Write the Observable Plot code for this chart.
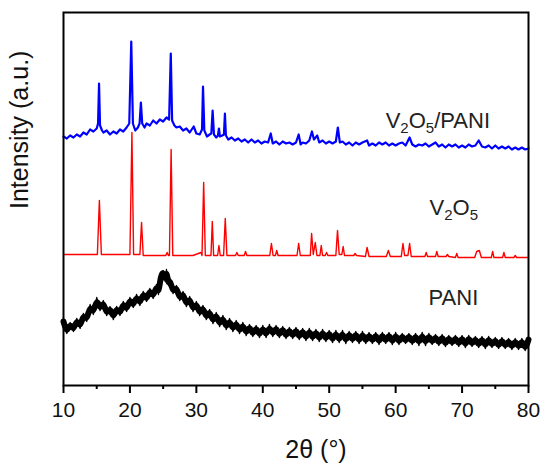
<!DOCTYPE html>
<html><head><meta charset="utf-8">
<script src="https://cdn.jsdelivr.net/npm/d3@7"></script>
<script src="https://cdn.jsdelivr.net/npm/@observablehq/plot@0.6"></script>
<style>
body{margin:0;background:#fff}
#chart svg{font-family:"Liberation Sans",Arial,sans-serif}
</style>
</head><body><div id="chart"></div>
<script>
// Tick values
const xTicks = [10, 20, 30, 40, 50, 60, 70, 80];
const xMinorTicks = [15, 25, 35, 45, 55, 65, 75];
const xLabel = "2θ (°)";
const yLabel = "Intensity (a.u.)";

// Series labels (text, 2θ position, intensity position)
const seriesLabels = ["V2O5/PANI", "V2O5", "PANI"];
const labelTheta = [58.5, 65.1, 64.95];
const labelIntensity = [258, 171, 81];

// PANI (black)
const paniTheta = [10,10.5,11,11.5,12,12.5,13,13.5,14,14.5,15,15.5,16,16.5,17,17.5,18,18.5,19,19.5,20,20.5,21,21.5,22,22.5,23,23.5,24,24.3,24.6,25,25.3,25.5,25.8,26,26.5,27,27.5,28,28.5,29,29.5,30,30.5,31,31.5,32,32.5,33,33.5,34,34.5,35,35.5,36,36.5,37,37.5,38,38.5,39,39.5,40,40.5,41,41.5,42,42.5,43,43.5,44,44.5,45,45.5,46,46.5,47,47.5,48,48.5,49,49.5,50,50.5,51,51.5,52,52.5,53,53.5,54,54.5,55,55.5,56,56.5,57,57.5,58,58.5,59,59.5,60,60.5,61,61.5,62,62.5,63,63.5,64,64.5,65,65.5,66,66.5,67,67.5,68,68.5,69,69.5,70,70.5,71,71.5,72,72.5,73,73.5,74,74.5,75,75.5,76,76.5,77,77.5,78,78.5,79,79.5,80];
const paniIntensity = [64,52,63,54,67,57,72,64,81,71,88,75,85,70,79,66,79,70,84,74,88,78,91,80,94,84,97,87,101,
  91,108,115,104,116,100,107,
  92,100,85,94,79,89,74,84,70,80,66,76,62,73,59,70,56,67,54,65,52,63,50,61,49,60,48,60,
  48,61,49,60,48,59,47,58,47,58,
  46,57,45,57,45,56,44,56,44,55,
  43,55,43,55,42,54,43,54,42,54,
  42,53,42,53,41,53,42,53,41,53,
  41,52,42,52,41,52,40,53,40,52,
  41,51,40,51,39,50,40,50,39,50,
  38,50,39,49,38,49,37,49,38,48,
  37,48,37,47,36,47,36,47,35,46];

// V2O5 (red)
const v2o5Theta = [10,13,15.1,15.4,15.7,20.0,20.3,20.55,21.5,21.75,22.0,25.4,25.6,25.8,25.95,26.2,26.45,29.5,30.7,30.85,31.1,31.35,32.2,32.4,32.6,33.2,33.4,33.6,34.1,34.35,34.6,35.9,36.1,36.3,37.2,37.4,37.6,41.05,41.3,41.55,41.9,42.1,42.3,45.15,45.4,45.65,47.15,47.35,47.6,47.9,48.15,48.6,48.8,49.0,49.4,49.6,49.8,51.0,51.25,51.5,51.9,52.1,52.3,53.7,53.9,54.1,55.45,55.7,56.0,58.6,58.9,59.2,60.85,61.1,61.35,61.85,62.1,62.35,64.4,64.6,64.8,66.0,66.2,66.4,67.6,67.8,68.0,69.0,69.2,69.4,71.9,72.2,72.6,72.9,74.4,74.6,74.8,76.1,76.3,76.5,77.8,78.0,78.2,80];
const v2o5Intensity = [131,131,131,185,131,131,253,131,131,163,130,130,133,130,130,236,130,130,133,130,203,130,130,164,130,130,140,130,130,167,130,130,133,130,130,134,130,130,142,130,130,135,130,130,142,130,130,152,131,143,130,130,140,130,130,133,130,130,155,131,131,139,130,130,132,130,129,138,129,129,135,129,129,142,130,130,142,129,129,133,129,129,134,129,129,131,129,128,132,128,128,134,135,128,128,134,128,128,133,128,128,130,128,128];

// V2O5/PANI (blue)
const compTheta = [10,10.5,11,11.5,12,12.5,13,13.5,14,14.5,15,15.2,15.35,15.5,15.8,16,16.5,17,17.5,18,18.5,19,19.5,19.9,20.2,20.45,20.8,21.2,21.45,21.65,21.85,22.2,22.5,23,23.5,24,24.5,25,25.5,25.9,26.15,26.35,26.7,27,27.5,28,28.5,29,29.6,30,30.5,30.85,31.0,31.2,31.6,32.0,32.25,32.45,32.65,33.0,33.25,33.4,33.55,33.9,34.15,34.3,34.45,34.8,35.3,35.8,36.3,36.8,37.3,37.8,38.3,38.8,39.3,39.8,40.3,40.8,41.2,41.5,42,42.5,43,43.5,44,44.5,45,45.4,45.7,46,46.5,47,47.4,47.7,48.2,48.5,49,49.5,50,50.5,51,51.3,51.6,52,52.5,53,53.5,54,54.5,55,55.7,56,56.5,57,57.5,58,58.5,59,59.5,60,60.5,61,61.5,62.1,62.5,63,63.5,64,64.5,65,65.5,66,66.5,67,67.5,68,68.5,69,69.5,70,70.5,71,71.5,72,72.5,73,73.5,74,74.5,75,75.5,76,76.5,77,77.5,78,78.5,79,79.5,80];
const compIntensity = [249,247,250,248,251,249,253,251,256,254,257,262,302,260,255,253,255,251,254,252,256,254,258,262,344,262,255,258,262,283,262,258,262,260,265,262,266,264,268,266,332,265,260,258,259,255,257,253,259,252,251,256,299,255,249,251,252,275,251,248,250,257,249,250,251,272,250,246,248,245,247,244,246,243,246,243,245,242,244,243,252,242,244,241,244,242,243,241,243,251,241,243,242,245,254,246,250,243,245,242,244,242,244,258,243,244,241,243,240,243,241,243,245,240,242,240,243,241,243,240,242,240,242,243,240,248,241,239,241,240,242,239,241,243,239,241,238,241,239,241,238,240,238,241,239,240,245,239,238,240,237,240,237,239,237,239,236,238,236,238,236,237];

const toRows = (t, v) => t.map((d, i) => ({theta: d, intensity: v[i]})).filter(d => d.intensity != null);
const pani = toRows(paniTheta, paniIntensity);
const v2o5 = toRows(v2o5Theta, v2o5Intensity);
const comp = toRows(compTheta, compIntensity);
const labels = seriesLabels.map((s, i) => ({text: s, theta: labelTheta[i], intensity: labelIntensity[i]}));

const chart = Plot.plot({
  width: 550, height: 473,
  marginLeft: 63, marginRight: 22, marginTop: 12, marginBottom: 88,
  style: {background: "#fff", fontFamily: "Liberation Sans, Arial, sans-serif"},
  x: {domain: [10, 80]},
  y: {domain: [0, 373], axis: null},
  marks: [
    Plot.lineY(pani, {x: "theta", y: "intensity", curve: "basis", stroke: "#000", strokeWidth: 6}),
    Plot.lineY(pani, {x: "theta", y: "intensity", stroke: "#000", strokeWidth: 1.3}),
    Plot.lineY(v2o5, {x: "theta", y: "intensity", stroke: "#ff0000", strokeWidth: 1.4}),
    Plot.lineY(comp, {x: "theta", y: "intensity", stroke: "#0000ff", strokeWidth: 2.2, strokeLinejoin: "round"}),
    Plot.frame({stroke: "#000", strokeWidth: 2}),
    Plot.axisX(xMinorTicks, {tickSize: 4, tickFormat: () => "", strokeWidth: 2, label: null}),
    Plot.axisX(xTicks, {tickSize: 8, tickPadding: 9, fontSize: 21, strokeWidth: 2, fill: "#111", label: null}),
    Plot.text([yLabel], {frameAnchor: "left", rotate: -90, dx: -44, dy: 10, fontSize: 25, fill: "#111"}),
    Plot.text([xLabel], {frameAnchor: "bottom", lineAnchor: "bottom", dx: 20, dy: 72, fontSize: 25, fill: "#111"}),
    Plot.text(labels, {x: "theta", y: "intensity", text: "text", textAnchor: "start", lineAnchor: "bottom", fontSize: 22, fill: "#222"})
  ]
});

// Render chemical formula digits as subscripts
d3.select(chart).selectAll("text").each(function () {
  const s = this.textContent;
  if (!seriesLabels.includes(s) || !/\d/.test(s)) return;
  const el = d3.select(this);
  el.text(null);
  let sub = false;
  for (const ch of s) {
    const isDigit = /\d/.test(ch);
    const ts = el.append("tspan").text(ch);
    if (isDigit && !sub) { ts.attr("dy", 5).attr("font-size", 15); sub = true; }
    else if (isDigit) { ts.attr("font-size", 15); }
    else if (sub) { ts.attr("dy", -5); sub = false; }
  }
});

document.getElementById("chart").appendChild(chart);
</script>
</body></html>
